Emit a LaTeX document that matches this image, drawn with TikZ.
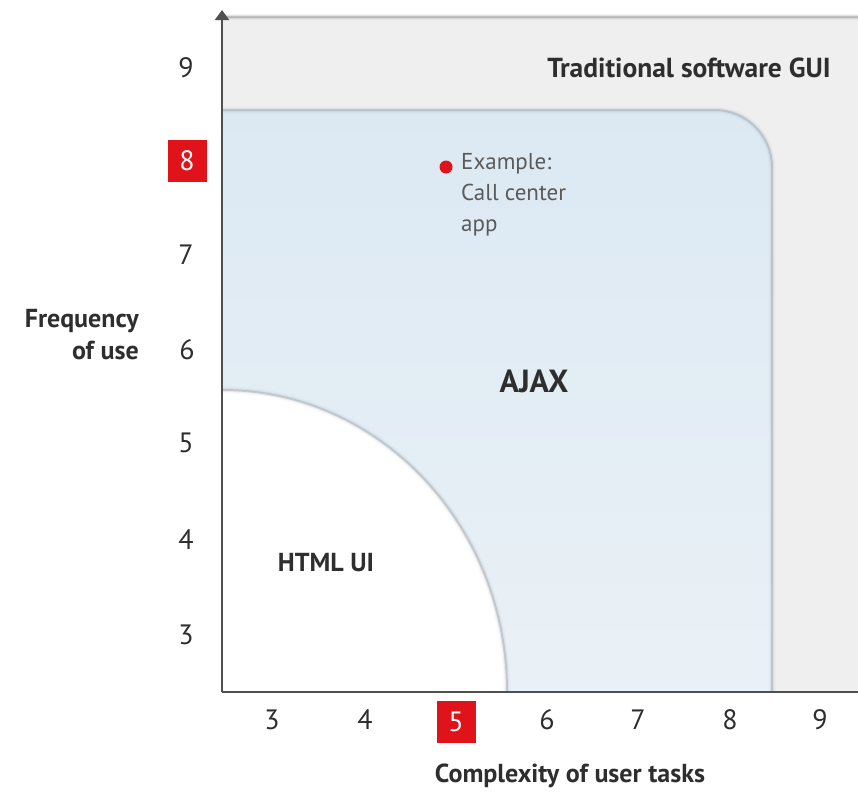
\documentclass[tikz,border=0pt]{standalone}
\usepackage{fontspec}
\setmainfont{PT Sans}
\usetikzlibrary{arrows.meta}
\definecolor{bggray}{HTML}{EFEFEF}
\definecolor{ajaxtop}{HTML}{DCE9F3}
\definecolor{ajaxbot}{HTML}{EAF1F6}
\definecolor{edgegray}{HTML}{9EA6AD}
\definecolor{axisgray}{HTML}{505050}
\definecolor{txtdark}{HTML}{2E2E2E}
\definecolor{txtmid}{HTML}{5A5A5A}
\definecolor{markred}{HTML}{E0131B}
\tikzset{
  tick/.style={font=\fontsize{28}{30}\selectfont, text=txtdark, inner sep=0pt},
  redtick/.style={tick, fill=markred, text=white, minimum width=39pt, minimum height=42pt},
  bigtitle/.style={font=\bfseries\fontsize{27.5}{30}\selectfont, text=txtdark, inner sep=0pt},
  axislabel/.style={font=\bfseries\fontsize{26}{32}\selectfont, text=txtdark, inner sep=0pt},
}
\begin{document}
\begin{tikzpicture}[x=1pt, y={(0pt,-1pt)}]
\useasboundingbox (0,0) rectangle (858,793);
\fill[white] (0,0) rectangle (858,793);
% traditional GUI area
\fill[bggray] (222,17) rectangle (858,692);
\foreach \w/\o in {6/0.08,4/0.15,2/0.35}
  \draw[draw=gray, line width=\w pt, opacity=\o] (222,17) -- (858,17);
% AJAX area
\path[top color=ajaxtop, bottom color=ajaxbot]
  (222,692) -- (222,110) -- (715,110) arc(-90:0:57) -- (772,692) -- cycle;
\foreach \w/\o in {7/0.06,4/0.14,2/0.45}
  \draw[draw=edgegray, line width=\w pt, opacity=\o]
    (222,110) -- (715,110) arc(-90:0:57) -- (772,692);
% HTML UI area
\fill[white] (222,692) -- (222,390) arc(-90:0:285 and 302) -- cycle;
\foreach \w/\o in {7/0.06,4/0.14,2/0.45}
  \draw[draw=edgegray, line width=\w pt, opacity=\o]
    (222,390) arc(-90:0:285 and 302);
% axes
\coordinate (origin) at (222,692);
\coordinate (ytop) at (222,10);
\coordinate (xend) at (858,692);
\draw[axisgray, line width=2.2pt, -{Triangle[width=14pt,length=10pt]}] (origin) -- (ytop);
\draw[axisgray, line width=2.2pt] (origin) -- (xend);
% y ticks
\node[tick] (y9) at (186,68) {9};
\node[redtick] (y8) at (187,161) {8};
\node[tick] (y7) at (186,255) {7};
\node[tick] (y6) at (187,350) {6};
\node[tick] (y5) at (186,443) {5};
\node[tick] (y4) at (186,540) {4};
\node[tick] (y3) at (186,635) {3};
% x ticks
\node[tick] (x3) at (272,720) {3};
\node[tick] (x4) at (365,720) {4};
\node[redtick] (x5) at (456,722) {5};
\node[tick] (x6) at (547,720) {6};
\node[tick] (x7) at (638,720) {7};
\node[tick] (x8) at (730,720) {8};
\node[tick] (x9) at (820,720) {9};
% axis labels
\node[axislabel, anchor=base] (xlab) at (570,782) {Complexity of user tasks};
\node[axislabel, align=right, anchor=north east] (ylab) at (139,309) {Frequency\\of use};
% region labels
\node[bigtitle, anchor=base] (trad) at (689,77) {Traditional software GUI};
\node[font=\bfseries\fontsize{32}{34}\selectfont, text=txtdark, inner sep=0pt, anchor=base] (ajax) at (534,392) {AJAX};
\node[bigtitle, font=\bfseries\fontsize{26}{28}\selectfont, anchor=base] (html) at (326,571) {HTML UI};
% example
\fill[markred] (446,167) circle (6.5);
\node[font=\fontsize{23}{31}\selectfont, text=txtmid, align=left, anchor=north west, inner sep=0pt] (ex) at (461,153) {Example:\\Call center\\app};
\end{tikzpicture}
\end{document}
